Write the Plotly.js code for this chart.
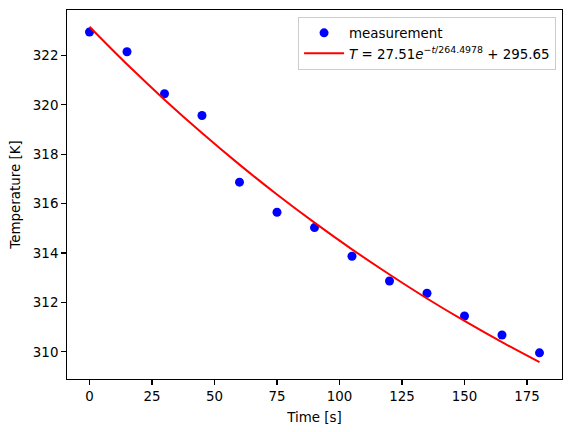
<!DOCTYPE html>
<html>
<head>
<meta charset="utf-8">
<script src="https://cdn.plot.ly/plotly-3.0.1.min.js"></script>
<style>html,body{margin:0;padding:0;background:#fff;}#chart{width:571px;height:432px;}</style>
</head>
<body>
<div id="chart"></div>
<script>
const timeS = [0, 15, 30, 45, 60, 75, 90, 105, 120, 135, 150, 165, 180];
const measuredK = [322.95, 322.15, 320.45, 319.57, 316.87, 315.65, 315.03, 313.87, 312.87, 312.37, 311.45, 310.68, 309.96];
const fitTimeS = [0, 15, 30, 45, 60, 75, 90, 105, 120, 135, 150, 165, 180];
const fitK = [323.16, 321.64, 320.21, 318.86, 317.58, 316.37, 315.23, 314.15, 313.13, 312.16, 311.25, 310.39, 309.58];
const measLabel = 'measurement';
const fitLabel = '<i>T</i> = 27.51<i>e</i><sup>−<i>t</i>/264.4978</sup> + 295.65';
const xTicks = [0, 25, 50, 75, 100, 125, 150, 175];
const yTicks = [310, 312, 314, 316, 318, 320, 322];

const font = {family: 'DejaVu Sans', size: 13.4, color: '#000'};
const traces = [
  {x: timeS, y: measuredK, name: measLabel, mode: 'markers', type: 'scatter',
   marker: {color: '#0000ff', size: 9}},
  {x: fitTimeS, y: fitK, name: fitLabel, mode: 'lines', type: 'scatter',
   line: {color: '#ff0000', width: 2, shape: 'spline'}}
];
const axisBase = {showline: true, linecolor: '#000', linewidth: 1.1, mirror: true,
  ticks: 'outside', ticklen: 4.8, tickwidth: 1.1, tickcolor: '#000', showgrid: false, zeroline: false,
  tickfont: font};
const layout = {
  width: 571, height: 432,
  margin: {l: 66.5, r: 9, t: 9.5, b: 53},
  paper_bgcolor: '#fff', plot_bgcolor: '#fff',
  font: font,
  showlegend: true,
  xaxis: Object.assign({}, axisBase, {range: [-9, 189], tickvals: xTicks,
    title: {text: 'Time [s]', font: font, standoff: 9}}),
  yaxis: Object.assign({}, axisBase, {range: [308.9, 323.84], tickvals: yTicks,
    title: {text: 'Temperature [K]', font: font, standoff: 9}}),
  legend: {x: 0.988, y: 0.982, xanchor: 'right', yanchor: 'top', bgcolor: 'rgba(255,255,255,0.8)',
    bordercolor: '#cccccc', borderwidth: 1, font: font, tracegroupgap: 0, itemwidth: 40}
};
Plotly.newPlot('chart', traces, layout, {displayModeBar: false, staticPlot: true});
</script>
</body>
</html>
